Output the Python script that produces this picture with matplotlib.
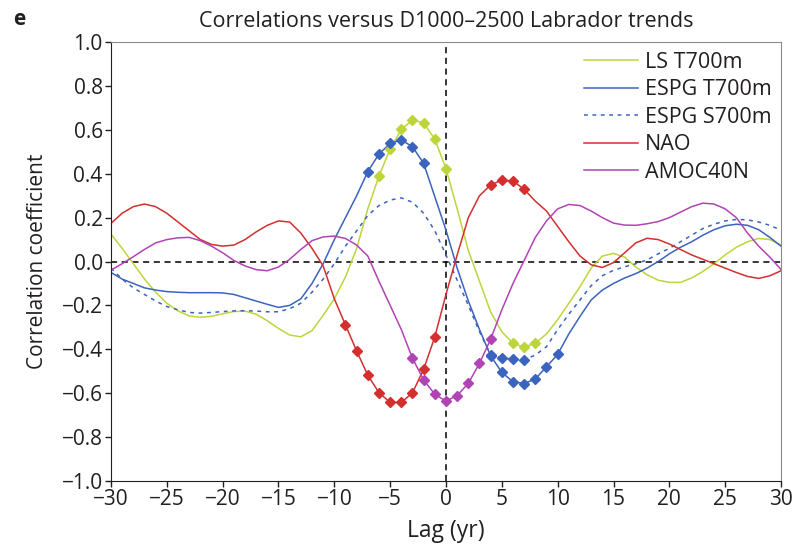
import matplotlib
matplotlib.use("Agg")
import matplotlib.pyplot as plt
import numpy as np

plt.rcParams['font.family'] = ['Open Sans', 'DejaVu Sans']

lags = np.arange(-30, 31)

ls_t700 = [0.125, 0.06, -0.01, -0.08, -0.14, -0.19, -0.225, -0.248, -0.254, -0.25,
           -0.238, -0.228, -0.226, -0.24, -0.27, -0.305, -0.335, -0.343, -0.315, -0.245,
           -0.17, -0.07, 0.06, 0.24, 0.39, 0.513, 0.602, 0.645, 0.632, 0.557,
           0.423, 0.24, 0.05, -0.09, -0.23, -0.32, -0.373, -0.39, -0.372, -0.33,
           -0.265, -0.19, -0.115, -0.03, 0.025, 0.037, 0.02, -0.025, -0.06, -0.085,
           -0.095, -0.095, -0.075, -0.045, -0.01, 0.03, 0.065, 0.09, 0.105, 0.1, 0.075]

espg_t700 = [-0.05, -0.08, -0.1, -0.12, -0.13, -0.137, -0.14, -0.142, -0.142, -0.142,
             -0.143, -0.15, -0.165, -0.18, -0.195, -0.209, -0.2, -0.17, -0.1, -0.01,
             0.1, 0.2, 0.3, 0.41, 0.49, 0.538, 0.554, 0.523, 0.447, 0.295,
             0.143, -0.03, -0.18, -0.31, -0.43, -0.505, -0.548, -0.556, -0.535, -0.48,
             -0.423, -0.33, -0.25, -0.175, -0.13, -0.1, -0.075, -0.055, -0.03, 0.0,
             0.035, 0.065, 0.09, 0.12, 0.145, 0.163, 0.17, 0.165, 0.145, 0.11, 0.07]

espg_s700 = [-0.03, -0.08, -0.12, -0.15, -0.18, -0.205, -0.22, -0.232, -0.235, -0.232,
             -0.228, -0.225, -0.224, -0.226, -0.229, -0.229, -0.215, -0.19, -0.14, -0.08,
             -0.01, 0.07, 0.14, 0.21, 0.255, 0.28, 0.29, 0.27, 0.22, 0.14,
             0.03, -0.085, -0.2, -0.32, -0.425, -0.438, -0.446, -0.448, -0.426, -0.388,
             -0.31, -0.24, -0.175, -0.11, -0.065, -0.04, -0.024, -0.01, 0.007, 0.035,
             0.06, 0.09, 0.12, 0.15, 0.17, 0.185, 0.192, 0.19, 0.18, 0.165, 0.143]

nao = [0.174, 0.22, 0.25, 0.262, 0.25, 0.22, 0.18, 0.14, 0.1, 0.078,
       0.07, 0.075, 0.1, 0.135, 0.165, 0.185, 0.18, 0.13, 0.06, -0.02,
       -0.17, -0.289, -0.408, -0.518, -0.598, -0.642, -0.642, -0.598, -0.491, -0.343,
       -0.15, 0.03, 0.2, 0.3, 0.349, 0.371, 0.367, 0.329, 0.275, 0.23,
       0.16, 0.09, 0.025, -0.015, -0.027, -0.005, 0.04, 0.085, 0.106, 0.1,
       0.08, 0.055, 0.03, 0.01, -0.01, -0.03, -0.05, -0.068, -0.077, -0.065, -0.042]

amoc40n = [-0.039, -0.01, 0.022, 0.055, 0.085, 0.1, 0.108, 0.11, 0.095, 0.07,
           0.04, 0.005, -0.02, -0.037, -0.042, -0.025, 0.01, 0.055, 0.095, 0.112,
           0.116, 0.105, 0.075, 0.025, -0.09, -0.2, -0.31, -0.441, -0.54, -0.605,
           -0.636, -0.611, -0.555, -0.464, -0.354, -0.22, -0.1, 0.005, 0.11, 0.185,
           0.24, 0.26, 0.255, 0.23, 0.2, 0.175, 0.166, 0.165, 0.172, 0.182,
           0.2, 0.225, 0.25, 0.266, 0.262, 0.24, 0.2, 0.13, 0.07, 0.02, -0.036]

# lags flagged with diamonds (significant)
sig_ls = [-6, -5, -4, -3, -2, -1, 0, 6, 7, 8]
sig_t700 = [-7, -6, -5, -4, -3, -2, 4, 5, 6, 7, 8, 9, 10]
sig_s700 = [4, 5, 6, 7]
sig_nao = [-9, -8, -7, -6, -5, -4, -3, -2, -1, 4, 5, 6, 7]
sig_amoc = [-3, -2, -1, 0, 1, 2, 3, 4]

c_lime = '#bed53a'
c_blue = '#3a64bd'
c_red = '#d32f2f'
c_mag = '#b044b4'
c_txt = '#231f20'

fig = plt.figure(figsize=(7.95, 5.5), dpi=100)
ax = fig.add_axes([0.1396, 0.1255, 0.8428, 0.798])

series = [
    (ls_t700, c_lime, '-', 'LS T700m', sig_ls),
    (espg_t700, c_blue, '-', 'ESPG T700m', sig_t700),
    (espg_s700, c_blue, (0, (2.5, 3)), 'ESPG S700m', sig_s700),
    (nao, c_red, '-', 'NAO', sig_nao),
    (amoc40n, c_mag, '-', 'AMOC40N', sig_amoc),
]

ax.axhline(0, color='black', lw=1.1, ls=(0, (4, 3)), zorder=1)
ax.axvline(0, color='black', lw=1.1, ls=(0, (4, 3)), zorder=1)

for vals, col, ls, lab, sig in series:
    vals = np.array(vals)
    ax.plot(lags, vals, color=col, lw=1.1, ls=ls, label=lab, zorder=2)
    idx = [list(lags).index(s) for s in sig]
    ax.plot(lags[idx], vals[idx], ls='none', marker='D', ms=5.5,
            color=col, mec=col, zorder=3)

xt = np.arange(-30, 31, 5)
yt = np.round(np.arange(-1.0, 1.01, 0.2), 1)
ax.set_xlim(-30, 30)
ax.set_ylim(-1.0, 1.0)
ax.set_xticks(xt)
ax.set_yticks(yt)
ax.set_xticklabels([str(t).replace('-', '\u2212') for t in xt])
ax.set_yticklabels([f'{t + 0.0:.1f}'.replace('-', '\u2212') for t in yt])
ax.tick_params(direction='out', length=4, width=1, labelsize=15, colors=c_txt,
               top=False, right=False, pad=2)
for side in ['top', 'right']:
    ax.spines[side].set_color('#8a8a8a')
for side in ['left', 'bottom']:
    ax.spines[side].set_color(c_txt)

ax.set_xlabel('Lag (yr)', fontsize=16.5, color=c_txt, labelpad=6)
ax.set_ylabel('Correlation coefficient', fontsize=15, color=c_txt, labelpad=10)
ax.set_title('Correlations versus D1000\u20132500 Labrador trends', fontsize=15.5,
             color=c_txt, pad=11)
fig.text(0.017, 0.955, 'e', fontsize=15, fontweight='bold', color=c_txt)

leg = ax.legend(loc='upper right', frameon=False, fontsize=15.5, handlelength=2.5,
                handletextpad=0.3, labelspacing=0.3, borderaxespad=0.15,
                borderpad=0.3)
for t in leg.get_texts():
    t.set_color(c_txt)

fig.savefig('out.png', dpi=100)
